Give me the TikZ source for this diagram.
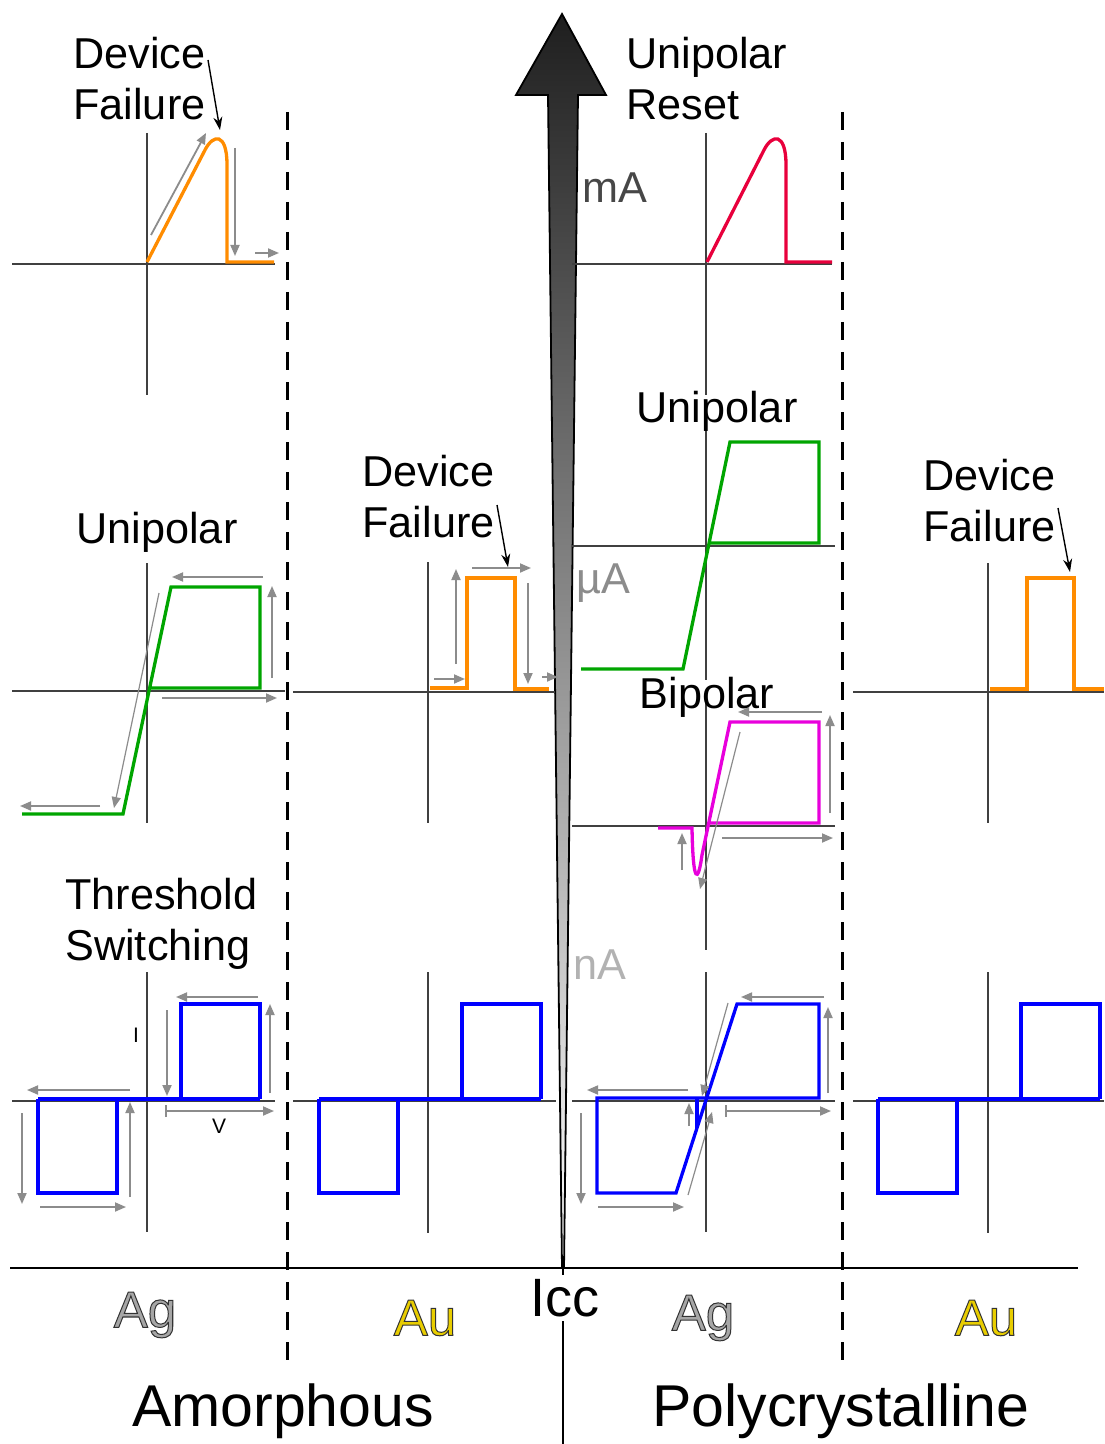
\documentclass[tikz,border=0pt]{standalone}
\usepackage{fontspec}
\setmainfont{Liberation Sans}
\usetikzlibrary{arrows.meta}
\definecolor{orng}{RGB}{255,140,0}
\definecolor{rd}{RGB}{232,0,60}
\definecolor{grn}{RGB}{0,165,0}
\definecolor{mgt}{RGB}{232,0,220}
\definecolor{blu}{RGB}{0,0,255}
\definecolor{gld}{RGB}{232,205,0}
\newcommand\outlined[1]{\special{pdf:literal direct 2 Tr 0.5 w 0.2 G}#1\special{pdf:literal direct 0 Tr}}
\begin{document}
\begin{tikzpicture}[x=0.5pt,y=-0.5pt,
  axis/.style={draw=black!75,line width=0.75pt},
  ga/.style={draw=black!45,line width=0.9pt,-{Triangle[length=5.5pt,width=4.5pt]}},
  gt/.style={draw=black!45,line width=0.6pt,-{Triangle[length=5.5pt,width=4.5pt]}},
  gb/.style={draw=black!45,line width=0.9pt,{Bar[width=6pt]}-{Triangle[length=5.5pt,width=4.5pt]}},
  crv/.style={line width=1.65pt,line join=miter},
  blk/.style={draw=black,line width=0.7pt,-{Stealth[length=6.5pt,width=4.5pt]}},
  lbl/.style={font=\fontsize{21.6}{25.5}\selectfont,align=left,inner sep=0pt},
  unit/.style={font=\fontsize{21.6}{25}\selectfont,inner sep=0pt,anchor=west},
  metal/.style={font=\fontsize{25.5}{30}\selectfont,inner sep=0pt},
  big/.style={font=\fontsize{29.5}{32}\selectfont,inner sep=0pt},
  small/.style={font=\fontsize{10.5}{12}\selectfont,inner sep=0pt},
  sep/.style={draw=black,line width=1.5pt,dash pattern=on 9pt off 6pt}
]
\useasboundingbox (0,0) rectangle (1104,1444);
\fill[white] (0,0) rectangle (1104,1444);

% separators
\draw[sep] (287,112) -- (287,1362);
\draw[sep] (842,112) -- (842,1362);
\draw[black,line width=1.2pt] (10,1268) -- (1078,1268);
\draw[black,line width=1pt] (563,1268) -- (563,1444);

% big Icc arrow
\shade[top color=black!88,bottom color=white,draw=black,line width=0.9pt]
  (548,95) -- (516,95) -- (562,14) -- (606,95) -- (578,95) -- (564,1268) -- (562,1268) -- cycle;

% ---------- axes ----------
% amorphous Ag
\draw[axis] (12,264) -- (275,264);  \draw[axis] (147,133) -- (147,395);
\draw[axis] (12,691) -- (285,691);  \draw[axis] (147,563) -- (147,823);
\draw[axis] (12,1101) -- (275,1101); \draw[axis] (147,972) -- (147,1232);
% amorphous Au
\draw[axis] (293,692) -- (555,692); \draw[axis] (428,562) -- (428,823);
\draw[axis] (293,1101) -- (556,1101); \draw[axis] (428,972) -- (428,1233);
% poly Ag
\draw[axis] (572,264) -- (832,264); \draw[axis] (706,133) -- (706,395);
\draw[axis] (572,546) -- (835,546); \draw[axis] (706,415) -- (706,680);
\draw[axis] (572,826) -- (835,826); \draw[axis] (706,700) -- (706,950);
\draw[axis] (572,1101) -- (835,1101); \draw[axis] (706,972) -- (706,1232);
% poly Au
\draw[axis] (853,692) -- (1104,692); \draw[axis] (988,563) -- (988,823);
\draw[axis] (853,1101) -- (1104,1101); \draw[axis] (988,972) -- (988,1233);

% ---------- curves ----------
% top-left device failure
\draw[crv,orng] (147,262) -- (205,150) .. controls (213,134) and (227,132) .. (227,165) -- (227,262) -- (274,262);
\draw[ga] (151,235) -- (206,133);
\draw[ga] (235,148) -- (235,256);
\draw[ga] (255,253) -- (279,253);
% top-right unipolar reset
\draw[crv,rd] (707,262) -- (764,150) .. controls (772,134) and (786,132) .. (786,165) -- (786,262) -- (832,262);

% amorphous Ag unipolar
\draw[crv,grn] (22,814) -- (123,814) -- (171,587) -- (260,587) -- (260,688) -- (149,688);
\draw[ga] (263,577) -- (172,577);
\draw[ga] (272,678) -- (272,586);
\draw[ga] (162,698) -- (277,698);
\draw[gt] (159,593) -- (114,808);
\draw[ga] (100,806) -- (20,806);

% amorphous Au device failure
\draw[crv,orng] (430,688) -- (467,688) -- (467,578) -- (515,578) -- (515,689) -- (549,689);
\draw[ga] (434,679) -- (465,679);
\draw[ga] (456,664) -- (456,569);
\draw[ga] (472,568) -- (531,568);
\draw[ga] (528,583) -- (528,684);
\draw[ga] (542,677) -- (558,677);

% poly Ag unipolar
\draw[crv,grn] (581,669) -- (683,669) -- (730,442) -- (819,442) -- (819,543) -- (709,543);

% poly Ag bipolar
\draw[crv,mgt] (658,828) -- (692,828) .. controls (693,885) and (698,884) .. (702,855) -- (730,722) -- (819,722) -- (819,823) -- (708,823);
\draw[ga] (822,712) -- (738,712);
\draw[ga] (830,813) -- (830,715);
\draw[ga] (722,838) -- (833,838);
\draw[gt] (740,732) -- (700,889);
\draw[ga] (682,870) -- (682,833);

% poly Au device failure
\draw[crv,orng] (990,689) -- (1027,689) -- (1027,578) -- (1074,578) -- (1074,689) -- (1104,689);

% amorphous Ag threshold switching
\draw[crv,blu] (38,1099) -- (260,1099);
\draw[crv,blu] (181,1099) -- (181,1004) -- (260,1004) -- (260,1099);
\draw[crv,blu] (38,1099) -- (38,1193) -- (117,1193) -- (117,1099);
\draw[ga] (258,997) -- (176,997);
\draw[ga] (270,1093) -- (270,1004);
\draw[ga] (167,1010) -- (167,1096);
\draw[gb] (165,1111) -- (274,1111);
\draw[ga] (130,1090) -- (27,1090);
\draw[ga] (22,1113) -- (22,1204);
\draw[ga] (40,1207) -- (126,1207);
\draw[ga] (130,1197) -- (130,1102);
\node[small] (lI) at (136,1035) {I};
\node[small] (lV) at (219,1126) {V};

% amorphous Au threshold switching
\draw[crv,blu] (319,1099) -- (541,1099);
\draw[crv,blu] (462,1099) -- (462,1004) -- (541,1004) -- (541,1099);
\draw[crv,blu] (319,1099) -- (319,1193) -- (398,1193) -- (398,1099);

% poly Ag threshold switching
\draw[crv,blu] (697,1099) -- (697,1128);
\draw[crv,blu] (597,1098) -- (819,1098) -- (819,1004) -- (737,1004) -- (676,1193) -- (597,1193) -- cycle;
\draw[ga] (824,997) -- (741,997);
\draw[ga] (828,1093) -- (828,1007);
\draw[gb] (725,1111) -- (831,1111);
\draw[ga] (688,1090) -- (587,1090);
\draw[ga] (581,1113) -- (581,1204);
\draw[ga] (598,1207) -- (684,1207);
\draw[ga] (689,1126) -- (689,1103);
\draw[gt] (728,1003) -- (702,1096);
\draw[gt] (688,1195) -- (712,1112);

% poly Au threshold switching
\draw[crv,blu] (878,1099) -- (1100,1099);
\draw[crv,blu] (1021,1099) -- (1021,1004) -- (1100,1004) -- (1100,1099);
\draw[crv,blu] (878,1099) -- (878,1193) -- (957,1193) -- (957,1099);

% ---------- labels ----------
\node[lbl,anchor=west] (df1) at (73,79) {Device\\Failure};
\coordinate (df1s) at (208,60); \coordinate (df1t) at (220,130);
\draw[blk] (df1s) -- (df1t);

\node[lbl,anchor=west] (ur) at (626,79) {Unipolar\\Reset};

\node[lbl] (uni1) at (157,532) {Unipolar};

\node[lbl,anchor=west] (df2) at (362,497) {Device\\Failure};
\coordinate (df2s) at (497,505); \coordinate (df2t) at (508,567);
\draw[blk] (df2s) -- (df2t);

\node[lbl] (uni2) at (717,411) {Unipolar};
\node[lbl] (bip) at (707,697) {Bipolar};

\node[lbl,anchor=west] (df3) at (923,501) {Device\\Failure};
\coordinate (df3s) at (1058,508); \coordinate (df3t) at (1070,572);
\draw[blk] (df3s) -- (df3t);

\node[lbl,anchor=west] (ts) at (65,924) {Threshold\\Switching};

\node[unit,text=black!72] (mA) at (582,188) {mA};
\node[unit,text=black!45] (uA) at (576,583) {µA};
\node[unit,text=black!30] (nA) at (573,965) {nA};

\node[metal,text=black!35] (ag1) at (145,1315) {\outlined{Ag}};
\node[metal,text=gld] (au1) at (425,1318) {\outlined{Au}};
\node[metal,fill=white,inner sep=2pt,font=\fontsize{27}{30}\selectfont] (icc) at (565,1298) {Icc};
\node[metal,text=black!35] (ag2) at (703,1318) {\outlined{Ag}};
\node[metal,text=gld] (au2) at (986,1318) {\outlined{Au}};

\node[big] (am) at (283,1411) {Amorphous};
\node[big] (pc) at (841,1411) {Polycrystalline};
\end{tikzpicture}
\end{document}
